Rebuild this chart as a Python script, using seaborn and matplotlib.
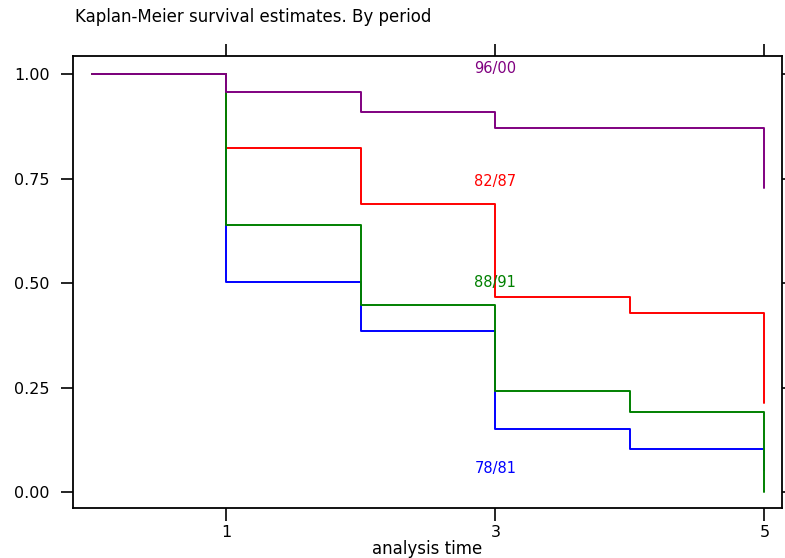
import numpy as np
import pandas as pd
import matplotlib
matplotlib.use("Agg")
import matplotlib.pyplot as plt
import seaborn as sns

# Survival estimates (value after each step, t = 0..5)
times = [0, 1, 2, 3, 4, 5]
surv_7881 = [1.00, 0.502, 0.386, 0.151, 0.104, 0.053]
surv_8287 = [1.00, 0.822, 0.688, 0.467, 0.429, 0.214]
surv_8891 = [1.00, 0.640, 0.448, 0.242, 0.191, 0.000]
surv_9600 = [1.00, 0.956, 0.908, 0.870, 0.870, 0.727]

periods = ["78/81", "82/87", "88/91", "96/00"]
colors = ["#0000ff", "#ff0000", "#008000", "#800080"]
label_y = [0.057, 0.742, 0.502, 1.014]

frames = []
for p, s in zip(periods, [surv_7881, surv_8287, surv_8891, surv_9600]):
    frames.append(pd.DataFrame({"time": times, "surv": s, "period": p}))
df = pd.concat(frames, ignore_index=True)

sns.set_style("ticks")
plt.rcParams["font.family"] = ["DejaVu Sans"]
plt.rcParams.update({"text.color": "black", "axes.labelcolor": "black",
                     "xtick.color": "black", "ytick.color": "black"})

fig = plt.figure(figsize=(7.85, 5.58), dpi=100)
ax = fig.add_axes([0.093, 0.0896, 0.903, 0.81])

sns.lineplot(data=df, x="time", y="surv", hue="period", hue_order=periods,
             palette=colors, drawstyle="steps-post", estimator=None,
             sort=False, legend=False, linewidth=1.4, ax=ax)

for p, c, yv in zip(periods, colors, label_y):
    ax.text(3, yv, p, color=c, ha="center", va="center", fontsize=10.5)

ax.set_xlim(-0.14, 5.13)
ax.set_ylim(-0.038, 1.043)
ax.set_xticks([1, 3, 5])
ax.set_yticks([0, 0.25, 0.5, 0.75, 1.0])
ax.set_yticklabels(["0.00", "0.25", "0.50", "0.75", "1.00"])
ax.tick_params(axis="both", direction="out", length=9, width=1.2,
               labelsize=11.5, top=True, right=True,
               labeltop=False, labelright=False)
ax.tick_params(axis="y", pad=8)
ax.tick_params(axis="x", pad=3)
for sp in ax.spines.values():
    sp.set_visible(True)
    sp.set_linewidth(1.3)
    sp.set_color("black")

ax.set_xlabel("analysis time", fontsize=12, labelpad=0)
ax.set_ylabel("")
fig.text(0.095, 1 - 17 / 558, "Kaplan-Meier survival estimates. By period",
         fontsize=12, va="center", ha="left")

fig.savefig("out.png", dpi=100)
